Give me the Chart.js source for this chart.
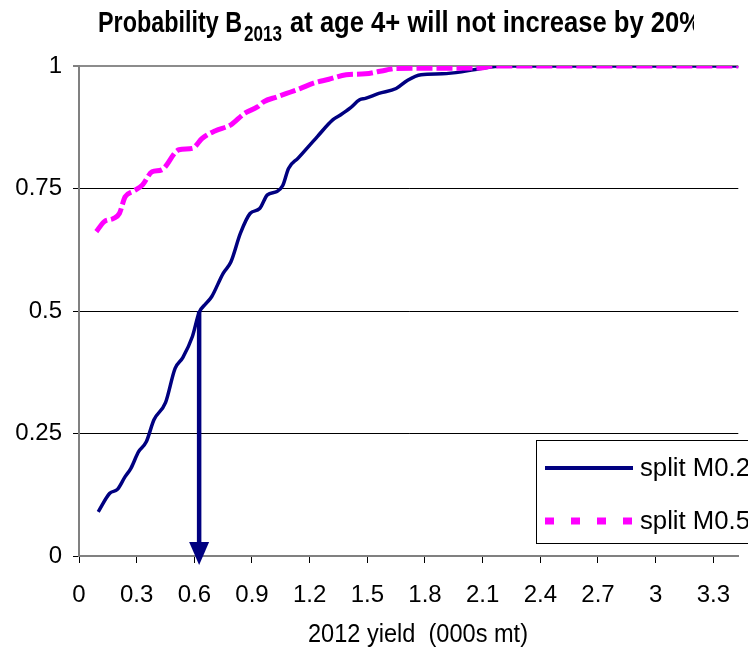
<!DOCTYPE html>
<html>
<head>
<meta charset="utf-8">
<script src="https://cdn.jsdelivr.net/npm/chart.js@4.4.1/dist/chart.umd.min.js"></script>
<style>
  html, body { margin: 0; padding: 0; background: #fff; overflow: hidden; }
  canvas { display: block; }
</style>
</head>
<body>
<canvas id="chart" width="748" height="650"></canvas>
<script>
// Series names as shown in the legend
const seriesNames = ['split M0.2', 'split M0.5'];

// split M0.2: cumulative probability against 2012 yield
const m02Yield = [0.10, 0.16, 0.20, 0.24, 0.27, 0.31, 0.35, 0.39, 0.45, 0.50, 0.54, 0.59, 0.625, 0.66, 0.69,
                  0.75, 0.79, 0.84, 0.89, 0.94, 0.98, 1.03, 1.06, 1.09, 1.14, 1.24, 1.32, 1.36, 1.41, 1.46,
                  1.49, 1.56, 1.65, 1.71, 1.78, 1.89, 1.99, 2.09, 2.20, 3.50];
const m02Prob  = [0.090, 0.128, 0.136, 0.162, 0.179, 0.213, 0.233, 0.278, 0.313, 0.383, 0.405, 0.448, 0.497, 0.515, 0.529,
                  0.577, 0.600, 0.659, 0.699, 0.709, 0.737, 0.744, 0.756, 0.791, 0.812, 0.856, 0.890, 0.900, 0.914, 0.931,
                  0.934, 0.944, 0.954, 0.971, 0.982, 0.984, 0.988, 0.995, 1.000, 1.000];

// split M0.5: cumulative probability against 2012 yield
const m05Yield = [0.09, 0.13, 0.18, 0.21, 0.24, 0.28, 0.33, 0.38, 0.43, 0.52, 0.59, 0.64, 0.71, 0.79, 0.86,
                  0.93, 0.96, 1.03, 1.08, 1.15, 1.22, 1.30, 1.39, 1.49, 1.60, 1.65, 2.09, 2.15, 3.50];
const m05Prob  = [0.662, 0.682, 0.689, 0.699, 0.733, 0.744, 0.757, 0.784, 0.788, 0.829, 0.832, 0.852, 0.868, 0.880, 0.903,
                  0.917, 0.927, 0.937, 0.944, 0.954, 0.965, 0.973, 0.982, 0.984, 0.992, 0.995, 0.996, 1.000, 1.000];

// Axis ticks
const xTickValues = [0, 0.3, 0.6, 0.9, 1.2, 1.5, 1.8, 2.1, 2.4, 2.7, 3, 3.3];
const yTickValues = [0, 0.25, 0.5, 0.75, 1];

// Yield where split M0.2 reaches a probability of 0.5, marked by an arrow
const markerYield = 0.625;
const markerFrom = 0.5;
const markerTo = 0;

// Text
const titleMain = 'Probability B';
const titleSub = '2013';
const titleRest = 'at age 4+ will not increase by 20%';
const xAxisTitle = '2012 yield  (000s mt)';

const FONT = '"Liberation Sans", Arial, Helvetica, sans-serif';
const NAVY = '#000080';
const MAGENTA = '#FF00FF';

const toPoints = (xs, ys) => xs.map((x, i) => ({ x: x, y: ys[i] }));

// Draws a text run squeezed horizontally to the given width
function drawFitted(ctx, text, x, y, font, width) {
  ctx.font = font;
  const w = ctx.measureText(text).width;
  ctx.save();
  ctx.translate(x, y);
  ctx.scale(width / w, 1);
  ctx.fillText(text, 0, 0);
  ctx.restore();
}

const textPlugin = {
  id: 'condensedText',
  afterDraw(chart) {
    const ctx = chart.ctx;
    ctx.save();
    ctx.fillStyle = '#000';
    ctx.textAlign = 'left';
    ctx.textBaseline = 'alphabetic';
    // axis title under the x ticks
    drawFitted(ctx, xAxisTitle, 308, 642, '25px ' + FONT, 220);
    // chart title with subscript, cut at its right end
    ctx.beginPath();
    ctx.rect(0, 0, 694, 60);
    ctx.clip();
    drawFitted(ctx, titleMain, 98, 32, 'bold 29px ' + FONT, 144);
    drawFitted(ctx, titleSub, 244, 41, 'bold 22px ' + FONT, 38);
    drawFitted(ctx, titleRest, 290, 32, 'bold 29px ' + FONT, 412);
    ctx.restore();
  }
};

const arrowPlugin = {
  id: 'medianArrow',
  afterDatasetsDraw(chart) {
    const ctx = chart.ctx;
    const xs = chart.scales.x, ys = chart.scales.y;
    const px = xs.getPixelForValue(markerYield);
    const yTop = ys.getPixelForValue(markerFrom);
    const tip = ys.getPixelForValue(markerTo) + 9;
    const headH = 23, headW = 20;
    ctx.save();
    ctx.strokeStyle = NAVY;
    ctx.fillStyle = NAVY;
    ctx.lineWidth = 4.5;
    ctx.beginPath();
    ctx.moveTo(px, yTop);
    ctx.lineTo(px, tip - headH + 2);
    ctx.stroke();
    ctx.beginPath();
    ctx.moveTo(px - headW / 2, tip - headH);
    ctx.lineTo(px + headW / 2, tip - headH);
    ctx.lineTo(px, tip);
    ctx.closePath();
    ctx.fill();
    ctx.restore();
  }
};

const legendPlugin = {
  id: 'boxedLegend',
  afterDraw(chart) {
    const ctx = chart.ctx;
    const ds = chart.data.datasets;
    ctx.save();
    ctx.fillStyle = '#fff';
    ctx.fillRect(536, 440, 240, 103);
    ctx.strokeStyle = '#000';
    ctx.lineWidth = 1;
    ctx.strokeRect(536.5, 440.5, 240, 103);
    const rows = [468, 521];
    ctx.textBaseline = 'middle';
    ctx.textAlign = 'left';
    rows.forEach((ry, i) => {
      ctx.strokeStyle = ds[i].borderColor;
      ctx.lineWidth = i === 0 ? 4 : 7;
      ctx.setLineDash(i === 0 ? [] : [9, 17]);
      ctx.beginPath();
      ctx.moveTo(545, ry);
      ctx.lineTo(633, ry);
      ctx.stroke();
      ctx.setLineDash([]);
      ctx.fillStyle = '#000';
      drawFitted(ctx, ds[i].label, 640, ry + 1, '26px ' + FONT, 110);
    });
    ctx.restore();
  }
};

new Chart(document.getElementById('chart'), {
  type: 'line',
  data: {
    datasets: [
      {
        label: seriesNames[0],
        data: toPoints(m02Yield, m02Prob),
        borderColor: NAVY,
        borderWidth: 3.5,
        pointRadius: 0,
        cubicInterpolationMode: 'monotone',
        fill: false,
        order: 2
      },
      {
        label: seriesNames[1],
        data: toPoints(m05Yield, m05Prob),
        borderColor: MAGENTA,
        borderWidth: 5,
        borderDash: [16, 4],
        pointRadius: 0,
        cubicInterpolationMode: 'monotone',
        fill: false,
        order: 1
      }
    ]
  },
  options: {
    responsive: false,
    devicePixelRatio: 1,
    animation: false,
    events: [],
    layout: { padding: { top: 66, left: 0, right: 0, bottom: 0 } },
    plugins: {
      legend: { display: false },
      title: { display: false },
      tooltip: { enabled: false }
    },
    scales: {
      x: {
        type: 'linear',
        min: 0,
        max: 3.43,
        afterBuildTicks: s => { s.ticks = xTickValues.map(v => ({ value: v })); },
        afterFit: s => { s.height = 94; },
        ticks: {
          color: '#000',
          font: { family: FONT, size: 24 },
          padding: 18,
          maxRotation: 0,
          autoSkip: false,
          callback: v => String(v)
        },
        grid: {
          drawOnChartArea: false,
          drawTicks: true,
          tickLength: 7,
          tickColor: '#000',
          tickWidth: 1
        },
        border: { display: true, color: '#808080', width: 2 }
      },
      y: {
        type: 'linear',
        min: 0,
        max: 1,
        afterBuildTicks: s => { s.ticks = yTickValues.map(v => ({ value: v })); },
        afterFit: s => { s.width = 79; },
        ticks: {
          color: '#000',
          font: { family: FONT, size: 24 },
          padding: 11,
          callback: v => String(v)
        },
        grid: {
          color: c => (c.tick && c.tick.value === 1) ? '#8c8c8c' : '#000',
          lineWidth: c => (c.tick && c.tick.value === 1) ? 2 : 1,
          tickLength: 6,
          tickColor: '#000',
          tickWidth: 1
        },
        border: { display: true, color: '#808080', width: 2 }
      }
    }
  },
  plugins: [textPlugin, arrowPlugin, legendPlugin]
});
</script>
</body>
</html>
